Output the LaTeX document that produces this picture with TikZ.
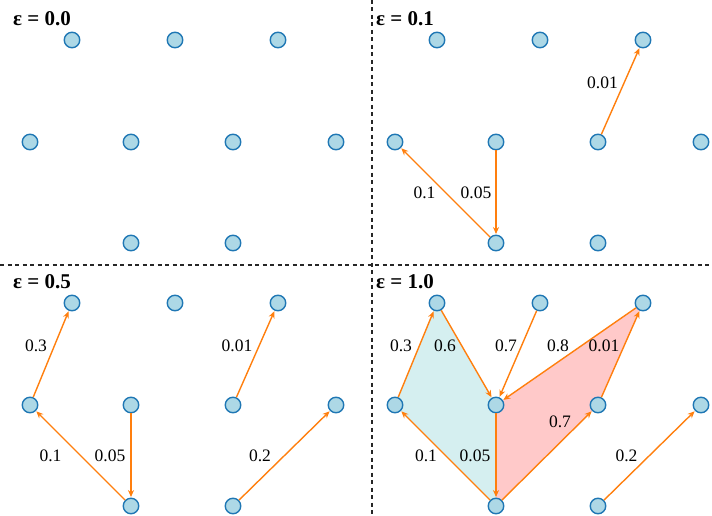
\documentclass[tikz,border=0pt]{standalone}
\usepackage{fontspec}
\setmainfont{Liberation Serif}
\usepackage{tikz}
\usetikzlibrary{arrows.meta,backgrounds}
\usepackage{xcolor}
\definecolor{dotfill}{HTML}{ADD8E6}
\definecolor{dotline}{HTML}{1F77B4}
\definecolor{flowc}{HTML}{FF7F0E}
\definecolor{tealfill}{HTML}{D5EFF0}
\definecolor{pinkfill}{HTML}{FFC9C9}
\tikzset{
  dot/.style={circle, draw=dotline, fill=dotfill, line width=1.4pt, minimum size=15.5pt, inner sep=0pt},
  flow/.style={-{Stealth[length=7pt,width=6pt]}, line width=1.4pt, draw=flowc, shorten >=0.5pt},
  lbl/.style={font=\fontsize{17.5}{17.5}\selectfont, inner sep=0pt},
  title/.style={font=\fontsize{21}{21}\selectfont\bfseries, anchor=west, inner sep=0pt},
  divider/.style={line width=1.2pt, dash pattern=on 4pt off 3.5pt, draw=black!85}
}

\begin{document}
\begin{tikzpicture}[x=1pt, y=-1pt]
  \useasboundingbox (0,0) rectangle (712,516);
  % panel grids
  \foreach \p/\ox/\oy in {a/0/0, b/365/0, c/0/263, d/365/263} {
    \foreach \n/\x/\y in {1/72/40, 2/175/40, 3/278/40, 4/30/142, 5/131/142, 6/233/142, 7/336/142, 8/131/243, 9/233/243}
      \node[dot] (\p\n) at (\x+\ox,\y+\oy) {};
  }
  \node[title] (ta) at (13,19) {ε = 0.0};
  \node[title] (tb) at (376,19) {ε = 0.1};
  \node[title] (tc) at (13,282) {ε = 0.5};
  \node[title] (td) at (376,282) {ε = 1.0};
  \draw[divider] (0,265) -- (712,265);
  \draw[divider] (372,0) -- (372,516);
  % eps = 0.1
  \draw[flow] (b8) -- node[lbl, xshift=-21pt] {0.1} (b4);
  \draw[flow] (b5) -- node[lbl, xshift=-20pt] {0.05} (b8);
  \draw[flow] (b6) -- node[lbl, xshift=-18pt, yshift=8.5pt] {0.01} (b3);
  % eps = 0.5
  \draw[flow] (c4) -- node[lbl, xshift=-15pt, yshift=8.5pt] {0.3} (c1);
  \draw[flow] (c8) -- node[lbl, xshift=-30pt] {0.1} (c4);
  \draw[flow] (c5) -- node[lbl, xshift=-21pt] {0.05} (c8);
  \draw[flow] (c6) -- node[lbl, xshift=-18.5pt, yshift=8.5pt] {0.01} (c3);
  \draw[flow] (c9) -- node[lbl, xshift=-24.5pt] {0.2} (c7);
  % eps = 1.0
  \begin{scope}[on background layer]
    \fill[tealfill] (d1.center) -- (d4.center) -- (d8.center) -- (d5.center) -- cycle;
    \fill[pinkfill] (d5.center) -- (d3.center) -- (d6.center) -- (d8.center) -- cycle;
  \end{scope}
  \draw[flow] (d4) -- node[lbl, xshift=-15pt, yshift=8.5pt] {0.3} (d1);
  \draw[flow] (d1) -- node[lbl, xshift=-21.5pt, yshift=8.5pt] {0.6} (d5);
  \draw[flow] (d2) -- node[lbl, xshift=-12pt, yshift=8.5pt] {0.7} (d5);
  \draw[flow] (d3) -- node[lbl, xshift=-11.5pt, yshift=8.5pt] {0.8} (d5);
  \draw[flow] (d6) -- node[lbl, xshift=-16.5pt, yshift=8.5pt] {0.01} (d3);
  \draw[flow] (d8) -- node[lbl, xshift=-19.5pt] {0.1} (d4);
  \draw[flow] (d5) -- node[lbl, xshift=-21pt] {0.05} (d8);
  \draw[flow] (d8) -- node[lbl, xshift=13pt, yshift=33.5pt] {0.7} (d6);
  \draw[flow] (d9) -- node[lbl, xshift=-23pt] {0.2} (d7);
\end{tikzpicture}
\end{document}
